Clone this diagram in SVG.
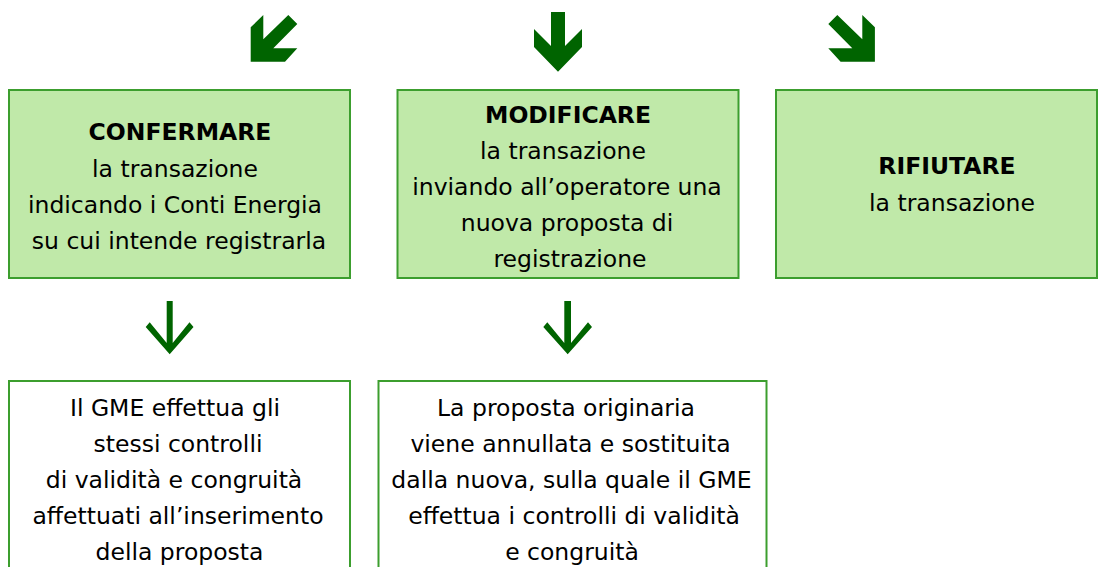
<svg xmlns="http://www.w3.org/2000/svg" width="1104" height="567" viewBox="0 0 1104 567">
<style>
.box{fill:#C0E9A9;stroke:#3C9E2E;stroke-width:2}
.wbox{fill:#FFFFFF;stroke:#3C9E2E;stroke-width:2}
.arr{fill:#006400;stroke:none}
text{font-family:"DejaVu Sans","Liberation Sans",sans-serif;font-size:23.5px;fill:#000;text-anchor:middle}
.b{font-weight:bold}
</style>
<rect width="1104" height="567" fill="#FFFFFF"/>
<g id="connectors">
<polygon class="arr" points="250.7,27.3 263.3,15 263.3,39.3 288.3,15 297.3,24 273.3,48.3 297.3,48.3 285,61.7 250.7,61.7"/>
<polygon class="arr" points="551,12 565,12 565,46 582,29 582,47 558,71.7 534,47 534,29 551,46"/>
<polygon class="arr" points="874.9,27.3 862.3,15 862.3,39.3 837.3,15 828.3,24 852.3,48.3 828.3,48.3 840.6,61.7 874.9,61.7"/>
<polygon class="arr" points="166.7,301 172.7,301 172.7,343 189.5,322.3 193.5,327 169.7,354.3 145.7,327 149.7,322.3 166.7,343"/>
<polygon class="arr" points="564.3,301 571,301 571,343 588,322.3 592,327 567.7,354.3 543.3,327 547.3,322.3 564.3,343"/>
</g>
<g id="confermare">
<rect class="box" x="9" y="90" width="341" height="188"/>
<text class="b" x="180" y="140">CONFERMARE</text>
<text x="175" y="176.5">la transazione</text>
<text x="175" y="213">indicando i Conti Energia</text>
<text x="179" y="249">su cui intende registrarla</text>
</g>
<g id="modificare">
<rect class="box" x="397.5" y="90" width="341" height="188"/>
<text class="b" x="568" y="122.5">MODIFICARE</text>
<text x="563" y="158.5">la transazione</text>
<text x="567" y="195">inviando all’operatore una</text>
<text x="567" y="231">nuova proposta di</text>
<text x="570" y="267">registrazione</text>
</g>
<g id="rifiutare">
<rect class="box" x="776" y="90" width="321" height="188"/>
<text class="b" x="947" y="174">RIFIUTARE</text>
<text x="952" y="211">la transazione</text>
</g>
<g id="controlli">
<rect class="wbox" x="9" y="381" width="341" height="200"/>
<text x="175" y="416">Il GME effettua gli</text>
<text x="178" y="452">stessi controlli</text>
<text x="174" y="488">di validità e congruità</text>
<text x="178" y="524">affettuati all’inserimento</text>
<text x="179.5" y="560">della proposta</text>
</g>
<g id="annullata">
<rect class="wbox" x="378.5" y="381" width="388" height="200"/>
<text x="566" y="416">La proposta originaria</text>
<text x="570.5" y="452">viene annullata e sostituita</text>
<text x="571.5" y="488">dalla nuova, sulla quale il GME</text>
<text x="574" y="524">effettua i controlli di validità</text>
<text x="572" y="560">e congruità</text>
</g>
</svg>
